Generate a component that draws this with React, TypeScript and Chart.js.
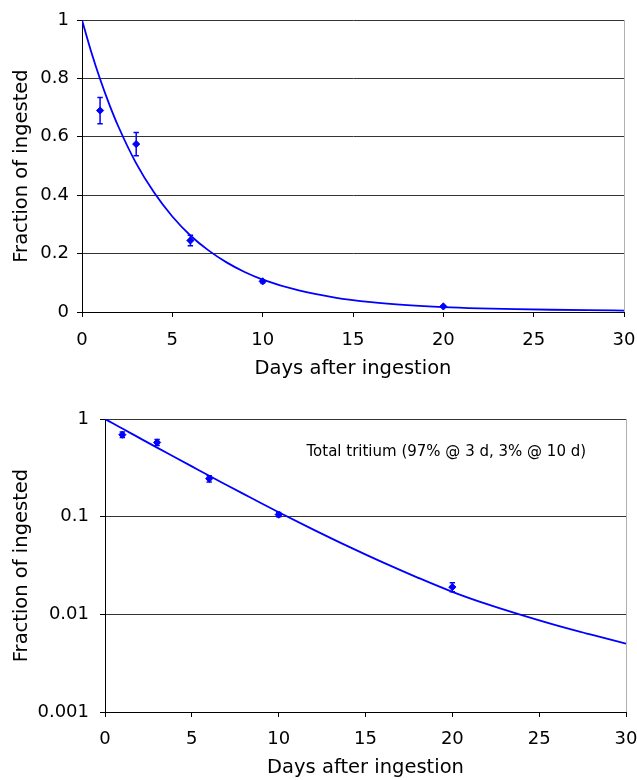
import { useEffect, useRef } from "react";
import { Chart, registerables } from "chart.js";

Chart.register(...registerables);

// Measured retention (days after ingestion, fraction, ± error)
const measuredDays = [1, 3, 6, 10, 20];
const measuredFraction = [0.69, 0.575, 0.245, 0.105, 0.019];
const measuredError = [0.045, 0.04, 0.018, 0.005, 0.002];

// Fitted curve
const fitDays = [0, 0.5, 1, 1.5, 2, 3, 4, 5, 6, 7, 8, 9, 10, 12, 14, 16, 18, 20, 22, 24, 26, 28, 30];
const fitFraction = [
  1.0, 0.893, 0.798, 0.713, 0.637, 0.509, 0.408, 0.327, 0.262, 0.211, 0.17, 0.137, 0.111,
  0.0737, 0.0496, 0.034, 0.0238, 0.017, 0.0127, 0.0098, 0.0077, 0.0062, 0.005,
];

const xTicks = [0, 5, 10, 15, 20, 25, 30];
const linearYTicks = [0, 0.2, 0.4, 0.6, 0.8, 1];
const logYTicks = [0.001, 0.01, 0.1, 1];

const xTitle = "Days after ingestion";
const yTitle = "Fraction of ingested";
const annotationText = "Total tritium (97% @ 3 d, 3% @ 10 d)";
const annotationAt = { x: 11.6, y: 0.46 };

const FONT = "DejaVu Sans";
const BLUE = "#0000ff";

const errorBarPlugin = {
  id: "errorBars",
  afterDatasetsDraw(chart: any) {
    const { ctx, scales } = chart;
    const xs = scales.x;
    const ys = scales.y;
    ctx.save();
    ctx.strokeStyle = BLUE;
    ctx.lineWidth = 1.5;
    measuredDays.forEach((d, i) => {
      const x = xs.getPixelForValue(d);
      const yt = ys.getPixelForValue(measuredFraction[i] + measuredError[i]);
      const yb = ys.getPixelForValue(measuredFraction[i] - measuredError[i]);
      ctx.beginPath();
      ctx.moveTo(x, yt);
      ctx.lineTo(x, yb);
      ctx.moveTo(x - 2.7, yt);
      ctx.lineTo(x + 2.7, yt);
      ctx.moveTo(x - 2.7, yb);
      ctx.lineTo(x + 2.7, yb);
      ctx.stroke();
    });
    ctx.restore();
  },
};

const rightBorderPlugin = {
  id: "rightBorder",
  afterDraw(chart: any) {
    const { ctx, chartArea } = chart;
    ctx.save();
    ctx.strokeStyle = "#b0b0b0";
    ctx.lineWidth = 1;
    const x = Math.round(chartArea.right) + 0.5;
    ctx.beginPath();
    ctx.moveTo(x, chartArea.top);
    ctx.lineTo(x, chartArea.bottom);
    ctx.stroke();
    ctx.restore();
  },
};

const annotationPlugin = {
  id: "annotationText",
  afterDraw(chart: any) {
    const { ctx, scales } = chart;
    ctx.save();
    ctx.fillStyle = "#000";
    ctx.font = `15px "${FONT}"`;
    ctx.textAlign = "left";
    ctx.textBaseline = "middle";
    ctx.fillText(
      annotationText,
      scales.x.getPixelForValue(annotationAt.x),
      scales.y.getPixelForValue(annotationAt.y)
    );
    ctx.restore();
  },
};

type Cfg = {
  log: boolean;
  padding: { left: number; top: number; right: number; bottom: number };
  yWidth: number;
  xHeight: number;
  xTickPad: number;
  yTickPad: number;
  xTitlePadBottom: number;
  yTitlePadTop: number;
};

function buildChart(canvas: HTMLCanvasElement, cfg: Cfg) {
  const plugins: any[] = [errorBarPlugin, rightBorderPlugin];
  if (cfg.log) plugins.push(annotationPlugin);
  return new Chart(canvas, {
    type: "scatter",
    data: {
      datasets: [
        {
          type: "line",
          data: fitDays.map((d, i) => ({ x: d, y: fitFraction[i] })),
          borderColor: BLUE,
          borderWidth: 1.8,
          pointRadius: 0,
          cubicInterpolationMode: "monotone",
          fill: false,
          order: 2,
        } as any,
        {
          type: "scatter",
          data: measuredDays.map((d, i) => ({ x: d, y: measuredFraction[i] })),
          pointStyle: "rectRot",
          pointRadius: 3.6,
          backgroundColor: BLUE,
          borderColor: BLUE,
          borderWidth: 1,
          order: 1,
        } as any,
      ],
    },
    options: {
      responsive: false,
      animation: false,
      devicePixelRatio: 1,
      layout: { padding: cfg.padding },
      plugins: { legend: { display: false }, tooltip: { enabled: false } },
      scales: {
        x: {
          type: "linear",
          min: 0,
          max: 30,
          afterBuildTicks: (s: any) => {
            s.ticks = xTicks.map((v) => ({ value: v }));
          },
          afterFit: (s: any) => {
            s.height = cfg.xHeight;
            s.paddingLeft = 0;
            s.paddingRight = 0;
          },
          ticks: {
            color: "#000",
            padding: cfg.xTickPad,
            font: { family: FONT, size: 18 },
            maxRotation: 0,
            callback: (v: any) => String(v),
          },
          grid: {
            drawOnChartArea: false,
            drawTicks: true,
            tickLength: 5,
            tickColor: "#000",
          },
          border: { color: "#000", width: 1 },
          title: {
            display: true,
            text: xTitle,
            color: "#000",
            font: { family: FONT, size: 19.5 },
            padding: { top: 0, bottom: cfg.xTitlePadBottom },
          },
        },
        y: {
          type: cfg.log ? "logarithmic" : "linear",
          min: cfg.log ? 0.001 : 0,
          max: 1,
          afterBuildTicks: (s: any) => {
            s.ticks = (cfg.log ? logYTicks : linearYTicks).map((v) => ({ value: v }));
          },
          afterFit: (s: any) => {
            s.width = cfg.yWidth;
            s.paddingTop = 0;
            s.paddingBottom = 0;
          },
          ticks: {
            color: "#000",
            padding: cfg.yTickPad,
            font: { family: FONT, size: 18 },
            callback: (v: any) => String(v),
          },
          grid: {
            color: "#333",
            lineWidth: 1,
            drawTicks: true,
            tickLength: 5,
            tickColor: "#000",
          },
          border: { color: "#000", width: 1 },
          title: {
            display: true,
            text: yTitle,
            color: "#000",
            font: { family: FONT, size: 19.5 },
            padding: { top: cfg.yTitlePadTop, bottom: 0 },
          },
        },
      },
    } as any,
    plugins,
  });
}

function Panel({ cfg, top }: { cfg: Cfg; top: number }) {
  const ref = useRef<HTMLCanvasElement | null>(null);
  useEffect(() => {
    if (!ref.current) return;
    const chart = buildChart(ref.current, cfg);
    return () => chart.destroy();
  }, []);
  return (
    <canvas
      ref={ref}
      width={637}
      height={390}
      style={{ position: "absolute", left: 0, top, width: 637, height: 390 }}
    />
  );
}

const linearCfg: Cfg = {
  log: false,
  padding: { left: 0, top: 20, right: 13, bottom: 0 },
  yWidth: 82,
  xHeight: 78,
  xTickPad: 13,
  yTickPad: 8,
  xTitlePadBottom: 9,
  yTitlePadTop: 10,
};

const logCfg: Cfg = {
  log: true,
  padding: { left: 0, top: 29, right: 11, bottom: 0 },
  yWidth: 105,
  xHeight: 68,
  xTickPad: 11.4,
  yTickPad: 11,
  xTitlePadBottom: 0,
  yTitlePadTop: 10,
};

export default function App() {
  return (
    <div style={{ position: "absolute", left: 0, top: 0, width: 637, height: 780, background: "#fff" }}>
      <Panel cfg={linearCfg} top={0} />
      <Panel cfg={logCfg} top={390} />
    </div>
  );
}
